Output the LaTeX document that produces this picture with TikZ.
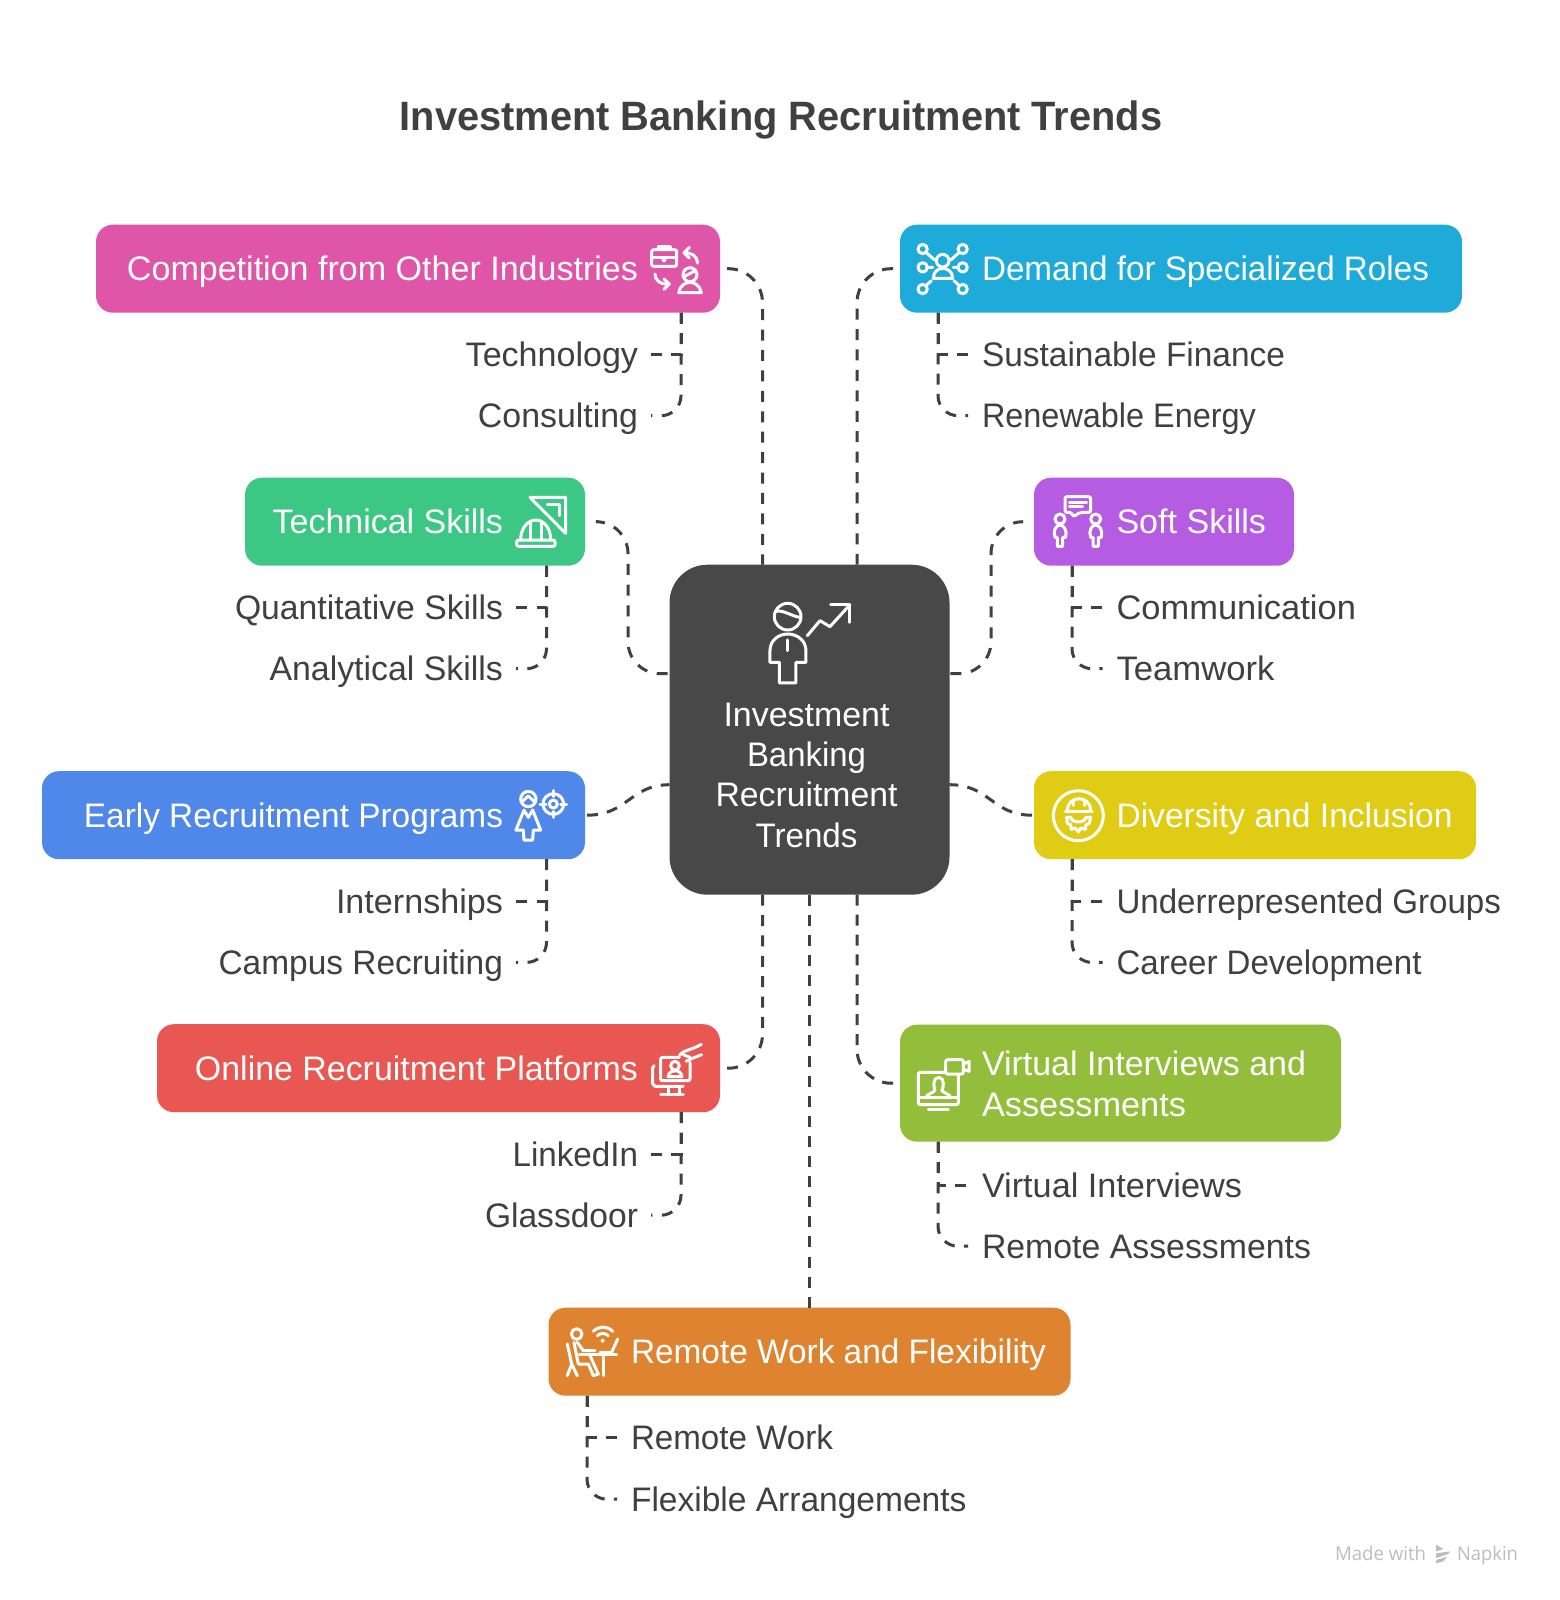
\documentclass[tikz,border=0pt]{standalone}
\usepackage{fontspec}
\usepackage{graphicx}
\setmainfont{Liberation Sans}
\newfontfamily\wmfont{Open Sans}
\usetikzlibrary{calc}
\newcommand\fw[2]{\resizebox{#1pt}{\height}{#2}}
\definecolor{inkc}{HTML}{404040}
\definecolor{cpink}{HTML}{DF56A8}
\definecolor{cblue}{HTML}{1EABDA}
\definecolor{cgreen}{HTML}{3DC784}
\definecolor{cpurple}{HTML}{B65CE3}
\definecolor{croyal}{HTML}{4F88E8}
\definecolor{cyellow}{HTML}{E0CB15}
\definecolor{cred}{HTML}{E85752}
\definecolor{clime}{HTML}{93BE3B}
\definecolor{corange}{HTML}{DE8431}
\definecolor{ccenter}{HTML}{484848}
\definecolor{wm}{HTML}{BDBDBD}
\tikzset{
  box/.style={rounded corners=17pt,inner sep=0pt,outer sep=0pt,draw=none},
  boxtext/.style={text=white,font=\fontsize{34}{40}\selectfont,inner sep=0pt,outer sep=0pt,text height=24pt,text depth=0pt},
  subtext/.style={text=inkc,font=\fontsize{34}{40}\selectfont,inner sep=0pt,outer sep=0pt,text height=24pt,text depth=0pt},
  wmtext/.style={text=wm,font=\wmfont\fontsize{19}{22}\selectfont,inner sep=0pt,outer sep=0pt,anchor=west,text height=14pt,text depth=0pt},
  conn/.style={draw=inkc,line width=3pt,dash pattern=on 11pt off #1pt},
  conn/.default=9.4,
  icon/.style={draw=white,line width=3pt,line cap=round,line join=round},
  zoomed/.style={x=0.3333pt,y=-0.3333pt},
}
\begin{document}
\begin{tikzpicture}[x=1pt,y=-1pt]
\useasboundingbox (0,-0.7) rectangle (1559,1599.3);
\fill[white] (0,-0.7) rectangle (1559,1599.3);

\node[text=inkc,font=\bfseries\fontsize{41}{48}\selectfont,inner sep=0pt] (title) at (781,119) {\fw{762.6}{Investment Banking Recruitment Trends}};

% boxes
\node[box,fill=cpink,minimum width=624pt,minimum height=88pt] (pink) at (408,268) {};
\node[box,fill=cblue,minimum width=562pt,minimum height=88pt] (blue) at (1181,268) {};
\node[box,fill=cgreen,minimum width=340pt,minimum height=88pt] (green) at (415,521) {};
\node[box,fill=cpurple,minimum width=260pt,minimum height=88pt] (purple) at (1164,521) {};
\node[box,fill=croyal,minimum width=543pt,minimum height=88pt] (royal) at (313.5,814.5) {};
\node[box,fill=cyellow,minimum width=442pt,minimum height=88pt] (yellow) at (1255,814.5) {};
\node[box,fill=cred,minimum width=563pt,minimum height=88pt] (red) at (438.5,1067.5) {};
\node[box,fill=clime,minimum width=441pt,minimum height=117pt] (lime) at (1120.5,1082.5) {};
\node[box,fill=corange,minimum width=522pt,minimum height=88pt] (orange) at (809.5,1351) {};
\node[box,rounded corners=38pt,fill=ccenter,minimum width=280pt,minimum height=330pt] (center) at (809.5,729) {};

% box texts
\node[boxtext,anchor=east] (pinkt) at (638,268) {\fw{511}{Competition from Other Industries}};
\node[boxtext,anchor=west] (bluet) at (982,268) {\fw{447}{Demand for Specialized Roles}};
\node[boxtext,anchor=east] (greent) at (503,521) {\fw{230.4}{Technical Skills}};
\node[boxtext,anchor=west] (purplet) at (1116.5,521) {\fw{149.5}{Soft Skills}};
\node[boxtext,anchor=east] (royalt) at (503,814.5) {\fw{419}{Early Recruitment Programs}};
\node[boxtext,anchor=west] (yellowt) at (1116.5,814.5) {\fw{336}{Diversity and Inclusion}};
\node[boxtext,anchor=east] (redt) at (638,1067.5) {\fw{443}{Online Recruitment Platforms}};
\node[boxtext,anchor=west] (limet1) at (982,1062.5) {\fw{324}{Virtual Interviews and}};
\node[boxtext,anchor=west] (limet2) at (982,1103.5) {\fw{204}{Assessments}};
\node[boxtext,anchor=west] (oranget) at (631,1351) {\fw{415}{Remote Work and Flexibility}};
\node[boxtext] (c1) at (806.5,714) {\fw{166}{Investment}};
\node[boxtext] (c2) at (806.5,754) {\fw{119}{Banking}};
\node[boxtext] (c3) at (806.5,794) {\fw{182}{Recruitment}};
\node[boxtext] (c4) at (806.5,835) {\fw{102}{Trends}};

% sub texts
\node[subtext,anchor=east] (s1) at (638,354) {\fw{172.3}{Technology}};
\node[subtext,anchor=east] (s2) at (638,415) {\fw{160}{Consulting}};
\node[subtext,anchor=west] (s3) at (982,354) {\fw{303}{Sustainable Finance}};
\node[subtext,anchor=west] (s4) at (982,415) {\fw{274}{Renewable Energy}};
\node[subtext,anchor=east] (s5) at (503,607) {\fw{268}{Quantitative Skills}};
\node[subtext,anchor=east] (s6) at (503,668) {\fw{233.5}{Analytical Skills}};
\node[subtext,anchor=west] (s7) at (1116.5,607) {\fw{239.5}{Communication}};
\node[subtext,anchor=west] (s8) at (1116.5,668) {\fw{158}{Teamwork}};
\node[subtext,anchor=east] (s9) at (503,900.7) {\fw{167}{Internships}};
\node[subtext,anchor=east] (s10) at (503,961.7) {\fw{284.4}{Campus Recruiting}};
\node[subtext,anchor=west] (s11) at (1116.5,900.7) {\fw{384.5}{Underrepresented Groups}};
\node[subtext,anchor=west] (s12) at (1116.5,961.7) {\fw{305}{Career Development}};
\node[subtext,anchor=east] (s13) at (638,1153.5) {\fw{125.4}{LinkedIn}};
\node[subtext,anchor=east] (s14) at (638,1214.5) {\fw{153}{Glassdoor}};
\node[subtext,anchor=west] (s15) at (982,1184.5) {\fw{260}{Virtual Interviews}};
\node[subtext,anchor=west] (s16) at (982,1245.5) {\fw{329}{Remote Assessments}};
\node[subtext,anchor=west] (s17) at (631,1437) {\fw{202}{Remote Work}};
\node[subtext,anchor=west] (s18) at (631,1498.5) {\fw{335.5}{Flexible Arrangements}};

% main connectors
\draw[conn=9.43,rounded corners=34pt] ([xshift=7pt]pink.east) -| ([xshift=-47pt]center.north);
\draw[conn=9.43,rounded corners=34pt] ([xshift=-7pt]blue.west) -| ([xshift=47.5pt]center.north);
\draw[conn=9.8,rounded corners=32pt] ([xshift=13pt]green.east) -- ++(30,0) -- ++(0,152) -- (center.west |- 0,673);
\draw[conn=9.8,rounded corners=32pt] ([xshift=-12pt]purple.west) -- ++(-31,0) -- ++(0,152) -- (center.east |- 0,673);
\draw[conn=9.25] ([xshift=2pt]royal.east) .. controls (628,814.5) and (630,784) .. (center.west |- 0,784);
\draw[conn=9.25] ([xshift=-2pt]yellow.west) .. controls (992,814.5) and (990,784) .. (center.east |- 0,784);
\draw[conn=9.38,rounded corners=34pt] ([xshift=7pt]red.east) -| ([xshift=-47pt]center.south);
\draw[conn=8.9,rounded corners=34pt] ([xshift=47.5pt]center.south) |- ([xshift=-7pt]lime.west);
\draw[conn=9.1] (center.south) -- (orange.north);

% sub connectors
\foreach \bx/\off/\a/\b in {pink/-39/s1/s2,green/-38.5/s5/s6,royal/-38.5/s9/s10,red/-39/s13/s14}{
  \draw[conn=9.5] ([xshift=\off pt]\bx.south east) |- ([xshift=13pt]\a.east);
  \draw[conn=9.5,rounded corners=20pt] ([xshift=\off pt]\bx.south east) |- ([xshift=13pt]\b.east);
}
\foreach \bx/\off/\a/\b in {blue/38/s3/s4,purple/38/s7/s8,yellow/38/s11/s12,lime/38/s15/s16,orange/38.5/s17/s18}{
  \draw[conn=9.3] ([xshift=\off pt]\bx.south west) |- ([xshift=-14pt]\a.west);
  \draw[conn=9.3,rounded corners=20pt] ([xshift=\off pt]\bx.south west) |- ([xshift=-14pt]\b.west);
}

% icon: center
\begin{scope}[shift={(620,200)},zoomed]
\draw[icon] (503,1248) circle[radius=40];
\draw[icon] (468,1232) .. controls (490,1226) and (520,1250) .. (542,1250);
\draw[icon] (450,1385) -- (450,1350) .. controls (450,1320) and (475,1300) .. (503,1300) .. controls (532,1300) and (558,1320) .. (558,1350) -- (558,1385) -- (528,1385) -- (528,1447) -- (478,1447) -- (478,1385) -- cycle;
\draw[icon] (503,1318) -- (503,1350);
\draw[icon] (562,1305) -- (600,1260) -- (630,1278) -- (690,1212);
\draw[icon] (632,1212) -- (690,1212) -- (690,1265);
\end{scope}

% icon: pink
\begin{scope}[shift={(620,230)},zoomed]
\draw[icon,rounded corners=2pt] (95,57) rectangle (170,107);
\draw[icon] (115,57) -- (115,46) -- (150,46) -- (150,57);
\draw[icon] (95,80) -- (170,80);
\fill[white] (132,88) circle[radius=7];
\draw[icon] (232,97) .. controls (232,75) and (215,66) .. (192,66);
\draw[icon] (208,50) -- (192,66) -- (208,82);
\draw[icon] (105,130) .. controls (105,150) and (122,162) .. (148,160);
\draw[icon] (132,145) -- (148,160) -- (132,176);
\draw[icon] (210,132) circle[radius=21];
\draw[icon] (192,138) -- (226,120);
\draw[icon] (176,186) .. controls (180,165) and (195,155) .. (210,155) .. controls (225,155) and (240,165) .. (244,186) -- cycle;
\end{scope}

% icon: blue
\begin{scope}[shift={(900,230)},zoomed]
\draw[icon] (128,90) circle[radius=19];
\draw[icon] (100,143) .. controls (100,122) and (115,113) .. (128,113) .. controls (142,113) and (158,122) .. (158,143) -- cycle;
\foreach \p in {(68,55),(188,55),(68,110),(188,110),(68,175),(188,175)}{\draw[icon] \p circle[radius=14];}
\draw[icon] (78,65) -- (104,88) (178,65) -- (152,88) (81,110) -- (98,110) (160,110) -- (175,110) (78,165) -- (94,150) (162,150) -- (178,165);
\end{scope}

% icon: green
\begin{scope}[shift={(500,480)},zoomed]
\draw[icon] (90,50) -- (197,50) -- (197,158) -- cycle;
\draw[icon] (142,72) -- (177,72) -- (177,105);
\draw[icon,rounded corners=2pt] (50,178) rectangle (165,197);
\draw[icon] (62,178) .. controls (62,140) and (85,118) .. (108,118) .. controls (130,118) and (152,140) .. (152,178);
\draw[icon] (92,122) -- (92,175) (125,122) -- (125,175);
\end{scope}

% icon: purple
\begin{scope}[shift={(1040,480)},zoomed]
\draw[icon,rounded corners=2pt] (75,48) -- (152,48) -- (152,95) -- (120,95) -- (100,108) -- (95,95) -- (75,95) -- cycle;
\draw[icon] (88,65) -- (140,65) (88,78) -- (128,78);
\foreach \dx in {0,107}{
\begin{scope}[xshift=\dx*0.3333pt]
\draw[icon] (60,115) circle[radius=15];
\draw[icon] (45,170) .. controls (38,150) and (48,133) .. (60,133) .. controls (72,133) and (82,150) .. (77,170) -- (68,170) -- (68,197) -- (52,197) -- (52,170) -- cycle;
\end{scope}}
\end{scope}

% icon: royal
\begin{scope}[shift={(500,770)},zoomed]
\draw[icon] (85,85) circle[radius=23];
\draw[icon] (65,95) .. controls (75,85) and (82,78) .. (85,76) .. controls (90,80) and (97,88) .. (106,95);
\draw[icon] (72,118) -- (48,178) -- (70,178) -- (72,208) -- (98,208) -- (100,178) -- (122,178) -- (98,118) -- (85,140) -- cycle;
\draw[icon] (160,100) circle[radius=31];
\draw[icon] (160,100) circle[radius=12];
\draw[icon] (160,60) -- (160,78) (160,122) -- (160,140) (120,100) -- (138,100) (182,100) -- (200,100);
\end{scope}

% icon: yellow
\begin{scope}[shift={(1040,770)},zoomed]
\draw[icon] (115,135) circle[radius=75];
\draw[icon] (82,118) .. controls (84,95) and (100,84) .. (117,84) .. controls (135,84) and (150,95) .. (152,118);
\draw[icon] (76,122) -- (156,122);
\draw[icon] (100,88) -- (100,104) (132,88) -- (132,104);
\draw[icon] (80,140) -- (92,140) .. controls (96,158) and (134,158) .. (138,140) -- (152,140) -- (148,158) -- (138,162) -- (136,176) -- (122,172) -- (115,184) -- (106,172) -- (94,176) -- (92,162) -- (82,158) -- cycle;
\end{scope}

% icon: red
\begin{scope}[shift={(640,1030)},zoomed]
\draw[icon,rounded corners=2pt] (118,80) -- (62,80) -- (62,150) -- (150,150) -- (150,95);
\draw[icon] (105,105) circle[radius=13];
\draw[icon] (84,138) .. controls (86,125) and (96,120) .. (105,120) .. controls (115,120) and (124,125) .. (126,138) -- cycle;
\draw[icon] (42,105) -- (38,112) -- (38,160) -- (46,167) -- (130,167);
\draw[icon] (85,170) -- (85,186) (118,170) -- (118,186) (62,190) -- (130,190);
\draw[icon] (118,74) .. controls (130,58) and (150,60) .. (184,41);
\draw[icon] (138,92) .. controls (150,85) and (165,80) .. (185,72);
\draw[icon] (130,72) -- (150,80);
\end{scope}

% icon: lime
\begin{scope}[shift={(900,1040)},zoomed]
\draw[icon,rounded corners=2pt] (135,95) -- (55,95) -- (55,192) -- (175,192) -- (175,105);
\draw[icon] (55,170) -- (175,170);
\draw[icon] (85,205) -- (145,205);
\draw[icon] (80,165) -- (105,150) .. controls (100,140) and (98,110) .. (116,110) .. controls (134,110) and (132,140) .. (125,150) -- (150,165);
\draw[icon,rounded corners=2pt] (137,57) rectangle (190,100);
\draw[icon] (190,70) -- (207,62) -- (207,92) -- (190,85);
\end{scope}

% icon: orange
\begin{scope}[shift={(550,1310)},zoomed]
\draw[icon] (80,70) circle[radius=16];
\draw[icon] (72,95) -- (85,160) -- (115,160) -- (130,195);
\draw[icon] (82,95) -- (100,120) -- (135,120);
\draw[icon] (118,130) -- (145,190) -- (130,195);
\draw[icon] (52,100) -- (65,160) -- (52,195) (65,160) -- (82,195);
\draw[icon] (88,130) -- (200,130) (160,130) -- (160,195);
\draw[icon] (150,125) -- (185,125) -- (203,85);
\draw[icon] (130,62) .. controls (145,45) and (172,45) .. (188,62);
\draw[icon] (142,75) .. controls (150,66) and (166,66) .. (175,75);
\fill[white] (158,90) circle[radius=6];
\end{scope}

% watermark
\node[wmtext] (wm1) at (1335,1553) {\fw{91}{Made with}};
\node[wmtext] (wm2) at (1457,1553) {\fw{61}{Napkin}};
\begin{scope}[shift={(1310,1530)},zoomed]
\fill[wm] (378,42) -- (400,55) -- (378,62) -- cycle;
\fill[wm] (378,68) -- (420,62) -- (415,70) -- (378,82) -- cycle;
\fill[wm] (378,88) -- (412,78) -- (400,92) -- (378,98) -- cycle;
\end{scope}
\end{tikzpicture}
\end{document}
